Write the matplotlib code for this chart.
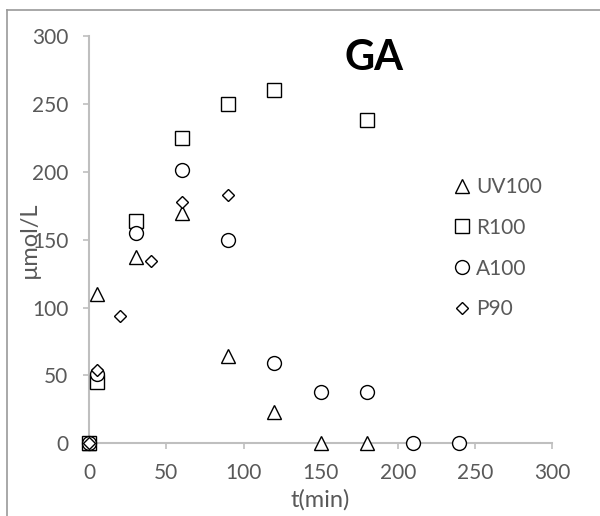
import matplotlib
matplotlib.use('Agg')
import matplotlib.pyplot as plt
from matplotlib.lines import Line2D

plt.rcParams['font.family'] = ['Lato', 'DejaVu Sans']

# donnees (t en min, concentration en umol/L)
t_uv = [0, 5, 30, 60, 90, 120, 150, 180]
c_uv = [0, 110, 137, 170, 64, 23, 0, 0]

t_r = [0, 5, 30, 60, 90, 120, 180]
c_r = [0, 45, 164, 225, 250, 260, 238]

t_a = [0, 5, 30, 60, 90, 120, 150, 180, 210, 240]
c_a = [0, 51, 155, 201, 150, 59, 38, 38, 0, 0]

t_p = [0, 5, 20, 40, 60, 90]
c_p = [0, 54, 94, 134, 178, 183]

series = [
    (t_uv, c_uv, '^', 10, 'UV100'),
    (t_r, c_r, 's', 10, 'R100'),
    (t_a, c_a, 'o', 10, 'A100'),
    (t_p, c_p, 'D', 6.5, 'P90'),
]

gris = '#595959'

fig = plt.figure(figsize=(6, 5.16), dpi=100)
ax = fig.add_axes([0.1488, 0.1409, 0.7712, 0.7893])

for t, c, m, ms, lab in series:
    ax.plot(t, c, ls='none', marker=m, ms=ms, mfc='white', mec='black',
            mew=1.0, label=lab, clip_on=False, zorder=3)

ax.set_xlim(0, 300)
ax.set_ylim(0, 300)
ax.set_xticks(range(0, 301, 50))
ax.set_yticks(range(0, 301, 50))

for s in ['top', 'right']:
    ax.spines[s].set_visible(False)
for s in ['left', 'bottom']:
    ax.spines[s].set_color('#BFBFBF')
    ax.spines[s].set_linewidth(1.5)

ax.tick_params(axis='both', direction='out', length=4, width=1.2,
               color='#BFBFBF', labelcolor=gris, labelsize=15)
ax.tick_params(axis='y', pad=11)
ax.tick_params(axis='x', pad=10)

ax.set_xlabel('t(min)', fontsize=17, color=gris)
ax.set_ylabel('µmol/L', fontsize=17, color=gris)
ax.xaxis.set_label_coords(0.5, -0.112)
ax.yaxis.set_label_coords(-0.106, 0.5)

fig.text(374 / 600, 1 - 58 / 516, 'GA', ha='center', va='center',
         fontsize=30, fontweight='bold', color='black')

leg = ax.legend(loc='center left', bbox_to_anchor=(0.741, 0.519),
                bbox_transform=fig.transFigure, frameon=False,
                fontsize=15, handlelength=0.7, handletextpad=0.3,
                labelspacing=1.0, borderpad=0, markerscale=1.0)
for txt in leg.get_texts():
    txt.set_color(gris)

# cadre exterieur (bord gauche et haut seulement visibles)
fig.add_artist(Line2D([7 / 600, 7 / 600], [0, 1 - 10 / 516],
                      transform=fig.transFigure, color='#9A9A9A', lw=1.2))
fig.add_artist(Line2D([7 / 600, 1], [1 - 10 / 516, 1 - 10 / 516],
                      transform=fig.transFigure, color='#9A9A9A', lw=1.2))

fig.savefig('out.png', dpi=100)
